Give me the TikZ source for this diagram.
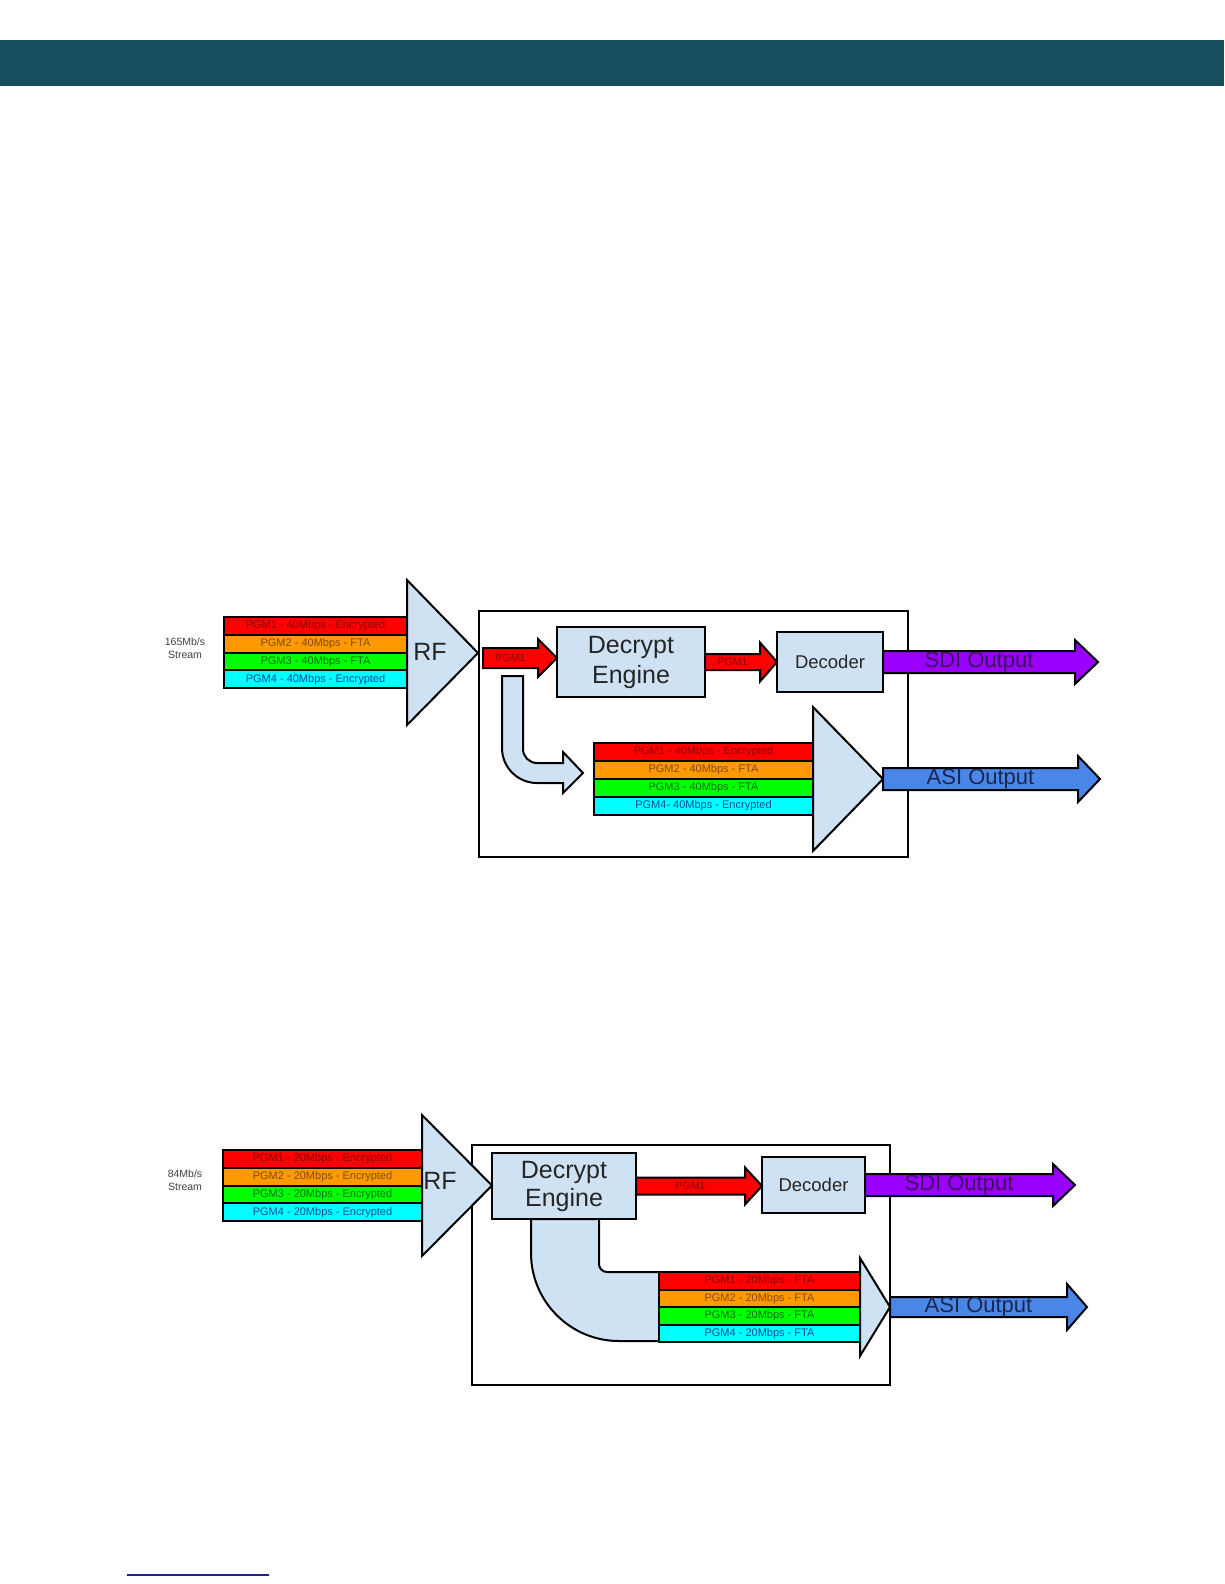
\documentclass[tikz,border=0pt]{standalone}
\usepackage{fontspec}
\setmainfont{Liberation Sans}
\usetikzlibrary{calc,positioning}

\definecolor{topbar}{RGB}{24,79,94}
\definecolor{lblue}{RGB}{207,226,243}
\definecolor{pgmred}{RGB}{255,0,0}
\definecolor{pgmorange}{RGB}{255,153,0}
\definecolor{pgmgreen}{RGB}{0,255,0}
\definecolor{pgmcyan}{RGB}{0,255,255}
\definecolor{sdicol}{RGB}{153,0,255}
\definecolor{asicol}{RGB}{74,134,232}
\definecolor{sditx}{RGB}{60,20,90}
\definecolor{asitx}{RGB}{25,40,80}
\definecolor{footrule}{RGB}{30,30,150}

\tikzset{
  box/.style={rectangle,draw=black,line width=2pt,fill=lblue,text=black!85,outer sep=0pt,inner sep=0pt},
  outerbox/.style={rectangle,draw=black,line width=1.5pt,outer sep=0pt},
  stripe/.style={rectangle,draw=black,line width=2pt,outer sep=0pt,inner sep=0pt,minimum height=17.75pt,font=\fontsize{11}{13}\selectfont},
  redrow/.style={stripe,fill=pgmred,text=pgmred!55!black},
  orangerow/.style={stripe,fill=pgmorange,text=pgmorange!50!black},
  greenrow/.style={stripe,fill=pgmgreen,text=pgmgreen!45!black},
  cyanrow/.style={stripe,fill=pgmcyan,text=pgmcyan!45!blue!65!black},
  shp/.style={draw=black,line width=2pt,fill=lblue},
  pgmarrow/.style={draw=black,line width=2pt,fill=pgmred},
  sdiarrow/.style={draw=black,line width=2pt,fill=sdicol},
  asiarrow/.style={draw=black,line width=2pt,fill=asicol},
  pgmtext/.style={text=pgmred!55!black,font=\fontsize{10.5}{12}\selectfont,inner sep=0pt},
  sditext/.style={text=sditx,font=\fontsize{22}{26}\selectfont,inner sep=0pt},
  asitext/.style={text=asitx,font=\fontsize{22}{26}\selectfont,inner sep=0pt},
  streamtext/.style={align=center,text=black!75,font=\fontsize{10.5}{13}\selectfont},
  rftext/.style={text=black!85,font=\fontsize{25}{28}\selectfont}
}

\newcommand{\blockarrow}[8]{%
  \draw[#1] let \p1=#2, \p2=#3 in
    (\x1,{\y1+#4}) -- ({\x2-#6},{\y1+#4}) -- ({\x2-#6},{\y1+#5}) -- (\x2,\y1)
    -- ({\x2-#6},{\y1-#5}) -- ({\x2-#6},{\y1-#4}) -- (\x1,{\y1-#4}) -- cycle
    ({(\x1+\x2-#6)/2},\y1) node[#7] {#8};}

\begin{document}
\begin{tikzpicture}[x=1pt,y=-1pt,node distance=0pt]
	\useasboundingbox (0,0) rectangle (1224,1584);
	\fill[topbar] (0,40) rectangle (1224,86);

	\node[outerbox,minimum width=429pt,minimum height=246pt] (1) at (693.5,734) {};
	\node[streamtext] (2) at (185,648) {165Mb/s\\Stream};
	\node[redrow,minimum width=183pt] (3) at (315.5,626) {PGM1 - 40Mbps - Encrypted};
	\node[orangerow,minimum width=183pt,below = of 3] (4) {PGM2 - 40Mbps - FTA};
	\node[greenrow,minimum width=183pt,below = of 4] (5) {PGM3 - 40Mbps - FTA};
	\node[cyanrow,minimum width=183pt,below = of 5] (6) {PGM4 - 40Mbps - Encrypted};
	\coordinate (7) at (478,653);
	\draw[shp] (407,580) -- (7) -- (407,725) -- cycle;
	\node[rftext] (8) at (430,652) {RF};
	\node[box,minimum width=148pt,minimum height=70pt,align=center,font=\fontsize{25}{30}\selectfont] (9) at (631,662) {Decrypt\\Engine};
	\node[box,minimum width=106pt,minimum height=60pt,font=\fontsize{18.5}{22}\selectfont] (10) at (830,662) {Decoder};
	\coordinate (11) at (483,658);
	\blockarrow{pgmarrow}{(11)}{(9.west)}{10pt}{19pt}{19pt}{pgmtext,name=12}{PGM1}
	\blockarrow{pgmarrow}{(9.east)}{(10.west)}{8pt}{19.5pt}{17pt}{pgmtext,name=13}{PGM1}
	\coordinate (14) at (1098,659);
	\blockarrow{sdiarrow}{(10.east)}{(14)}{11pt}{22pt}{23pt}{sditext,name=15}{SDI Output}
	\draw[shp] (502,676) -- (502,748) arc[start angle=180,end angle=270,radius=35pt] -- (563,783) -- (563,793) -- (583,773) -- (563,752) -- (563,763) -- (537,763) arc[start angle=270,end angle=180,radius=14pt] -- (523,676) -- cycle;
	\node[redrow,minimum width=219pt,minimum height=18pt] (16) at (703.5,752) {PGM1 - 40Mbps - Encrypted};
	\node[orangerow,minimum width=219pt,minimum height=18pt,below = of 16] (17) {PGM2 - 40Mbps - FTA};
	\node[greenrow,minimum width=219pt,minimum height=18pt,below = of 17] (18) {PGM3 - 40Mbps - FTA};
	\node[cyanrow,minimum width=219pt,minimum height=18pt,below = of 18] (19) {PGM4- 40Mbps - Encrypted};
	\coordinate (20) at (883,779);
	\draw[shp] (813,707) -- (20) -- (813,851) -- cycle;
	\coordinate (21) at (1100,779);
	\blockarrow{asiarrow}{(20)}{(21)}{11pt}{23pt}{22pt}{asitext,name=22}{ASI Output}

	\node[outerbox,minimum width=418pt,minimum height=240pt] (23) at (681,1265) {};
	\node[streamtext] (24) at (185,1180) {84Mb/s\\Stream};
	\node[redrow,minimum width=199pt] (25) at (322.5,1158.9) {PGM1 - 20Mbps - Encrypted};
	\node[orangerow,minimum width=199pt,below = of 25] (26) {PGM2 - 20Mbps - Encrypted};
	\node[greenrow,minimum width=199pt,below = of 26] (27) {PGM3 - 20Mbps - Encrypted};
	\node[cyanrow,minimum width=199pt,below = of 27] (28) {PGM4 - 20Mbps - Encrypted};
	\draw[shp] (531,1219) -- (531,1253) arc[start angle=180,end angle=270,radius=88pt] -- (661,1341) -- (661,1272) -- (607,1272) arc[start angle=270,end angle=180,radius=8pt] -- (599,1219) -- cycle;
	\node[box,minimum width=144pt,minimum height=66pt,align=center,font=\fontsize{25}{28}\selectfont] (29) at (564,1186) {Decrypt\\Engine};
	\coordinate (30) at (492,1185.5);
	\draw[shp] (422,1115) -- (30) -- (422,1256) -- cycle;
	\node[rftext] (31) at (440,1181) {RF};
	\node[box,minimum width=103pt,minimum height=56pt,font=\fontsize{18.5}{22}\selectfont] (32) at (813.5,1185) {Decoder};
	\blockarrow{pgmarrow}{(29.east)}{(32.west)}{8.5pt}{18.5pt}{17pt}{pgmtext,name=33}{PGM1}
	\coordinate (34) at (1075,1185.5);
	\blockarrow{sdiarrow}{(32.east)}{(34)}{11pt}{21pt}{22pt}{sditext,name=35}{SDI Output}
	\node[redrow,minimum width=201pt,minimum height=17.5pt] (36) at (759.5,1280.75) {PGM1 - 20Mbps - FTA};
	\node[orangerow,minimum width=201pt,minimum height=17.5pt,below = of 36] (37) {PGM2 - 20Mbps - FTA};
	\node[greenrow,minimum width=201pt,minimum height=17.5pt,below = of 37] (38) {PGM3 - 20Mbps - FTA};
	\node[cyanrow,minimum width=201pt,minimum height=17.5pt,below = of 38] (39) {PGM4 - 20Mbps - FTA};
	\coordinate (40) at (890,1307);
	\draw[shp] (860,1258) -- (40) -- (860,1356) -- cycle;
	\coordinate (41) at (1087,1307);
	\blockarrow{asiarrow}{(40)}{(41)}{10pt}{23pt}{20pt}{asitext,name=42}{ASI Output}

	\draw[footrule,line width=1.5pt] (127,1575) -- (269,1575);
\end{tikzpicture}
\end{document}
